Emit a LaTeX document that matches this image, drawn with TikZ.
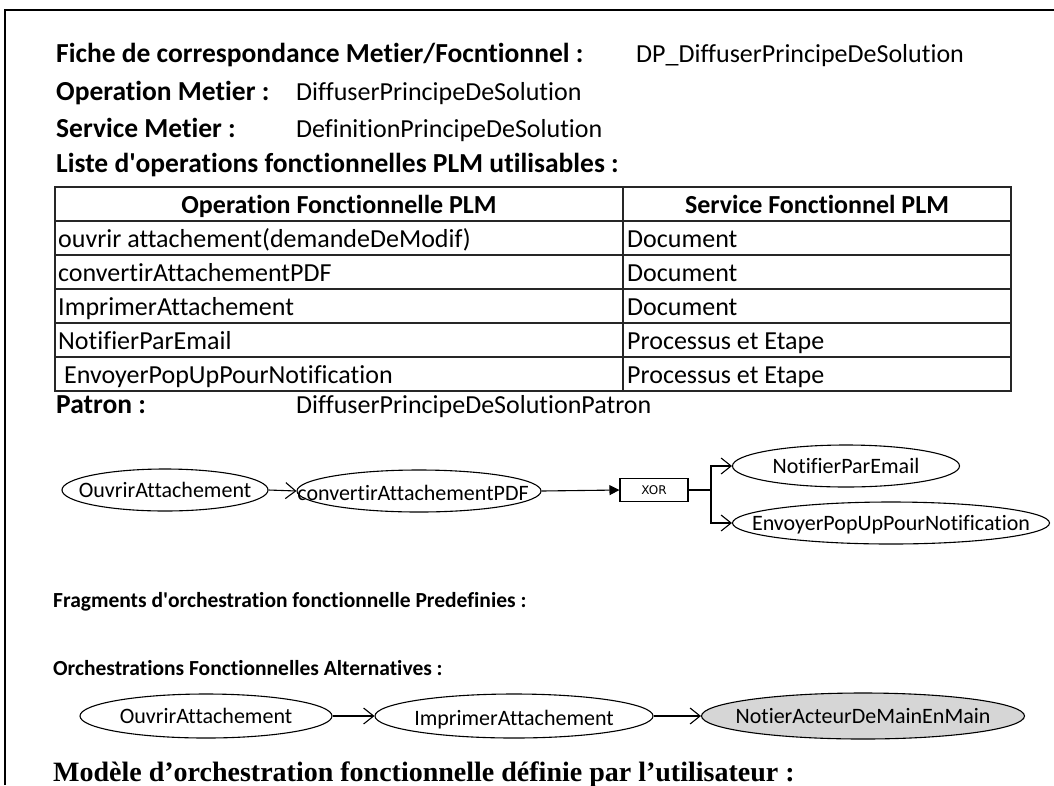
\documentclass[tikz,border=0pt]{standalone}
\usepackage{fontspec}
\setmainfont{Carlito}[Ligatures={NoCommon}]
\newfontfamily\ellfont{Carlito}[Ligatures={NoCommon}]
\newfontfamily\xorfont{DejaVu Sans}
\newfontfamily\serfont{Liberation Serif}
\usetikzlibrary{arrows.meta,shapes.geometric}
\begin{document}
\begin{tikzpicture}[x=1pt,y=-1pt,
  lbl/.style={anchor=base west, inner sep=0pt, font=\fontsize{26}{30}\selectfont},
  hd/.style={anchor=base west, inner sep=0pt, font=\fontsize{27.5}{31}\selectfont\bfseries},
  hdl/.style={anchor=base west, inner sep=0pt, font=\fontsize{21.5}{25}\selectfont\bfseries},
  thd/.style={anchor=base, inner sep=0pt, font=\fontsize{26}{30}\selectfont\bfseries},
  oval/.style={ellipse, draw, line width=1.1pt, minimum height=42pt, inner sep=0pt},
  ovaltxt/.style={anchor=base, inner sep=0pt, font=\ellfont\fontsize{22}{24}\selectfont},
  tline/.style={line width=1.8pt, draw=black!85},
  openarr/.style={line width=1.1pt, -{Straight Barb[length=10pt,width=16pt,line width=1.1pt]}},
  fillarr/.style={line width=1.1pt, -{Triangle[length=10pt,width=10pt]}},
  plain/.style={line width=1.1pt}
]
\useasboundingbox (0,0) rectangle (1054,785);
% frame
\draw[line width=2.8pt] (5,785) -- (5,10) -- (1054,10);

% header lines
\node[hd] (h1) at (56,62) {Fiche de correspondance Metier/Focntionnel :};
\node[lbl] (v1) at (636,62) {DP\_DiffuserPrincipeDeSolution};
\node[hd] (h2) at (56,100) {Operation Metier :};
\node[lbl] (v2) at (296,100) {DiffuserPrincipeDeSolution};
\node[hd] (h3) at (56,137) {Service Metier :};
\node[lbl] (v3) at (296,137) {DefinitionPrincipeDeSolution};
\node[hd] (h4) at (56,172) {Liste d\textquotesingle operations fonctionnelles PLM utilisables :};

% table
\draw[tline] (55,187) rectangle (1011,391);
\draw[tline] (623,187) -- (623,391);
\foreach \yy in {221,255,289,323,357} \draw[tline] (55,\yy) -- (1011,\yy);
\node[thd] (th1) at (339,213) {Operation Fonctionnelle PLM};
\node[thd] (th2) at (817,213) {Service Fonctionnel PLM};
\node[lbl] (r1a) at (58,247) {ouvrir attachement(demandeDeModif)};
\node[lbl] (r1b) at (627,247) {Document};
\node[lbl] (r2a) at (58,281) {convertirAttachementPDF};
\node[lbl] (r2b) at (627,281) {Document};
\node[lbl] (r3a) at (58,315) {ImprimerAttachement};
\node[lbl] (r3b) at (627,315) {Document};
\node[lbl] (r4a) at (58,349) {NotifierParEmail};
\node[lbl] (r4b) at (627,349) {Processus et Etape};
\node[lbl] (r5a) at (64,383) {EnvoyerPopUpPourNotification};
\node[lbl] (r5b) at (627,383) {Processus et Etape};

\node[hd] (h5) at (56,413) {Patron :};
\node[lbl] (v5) at (296,413) {DiffuserPrincipeDeSolutionPatron};

% patron diagram
\node[oval, minimum width=206pt] (p1) at (165,490) {};
\node[ovaltxt] (p1t) at ([yshift=-7pt]p1.center) {OuvrirAttachement};
\node[oval, minimum width=244pt] (p2) at (419,491) {};
\node[ovaltxt] (p2t) at ([xshift=-6pt,yshift=-9pt]p2.center) {convertirAttachementPDF};
\node[draw, line width=1.1pt, minimum width=68pt, minimum height=23pt, inner sep=0pt,
      font=\xorfont\fontsize{12}{13}\selectfont] (xor) at (654,490) {XOR};
\node[oval, minimum width=227pt] (p3) at (846,466) {};
\node[ovaltxt] (p3t) at ([yshift=-7pt]p3.center) {NotifierParEmail};
\node[oval, minimum width=317pt] (p4) at (891,523) {};
\node[ovaltxt] (p4t) at ([yshift=-7pt]p4.center) {EnvoyerPopUpPourNotification};
\coordinate (br) at (711,490);
\draw[openarr] (p1.east) -- (p2.west);
\draw[fillarr] (p2.east) -- (xor.west);
\draw[plain] (xor.east) -- (br);
\draw[openarr] (br) |- (p3.west);
\draw[openarr] (br) |- (p4.west);

% sections
\node[hdl] (h6) at (53,607) {Fragments d\textquotesingle orchestration fonctionnelle Predefinies :};
\node[hdl] (h7) at (53,675) {Orchestrations Fonctionnelles Alternatives :};

\node[oval, minimum width=252pt, minimum height=44pt] (b1) at (206,716) {};
\node[ovaltxt] (b1t) at ([yshift=-7pt]b1.center) {OuvrirAttachement};
\node[oval, minimum width=278pt, minimum height=44pt] (b2) at (514,716) {};
\node[ovaltxt] (b2t) at ([yshift=-9pt]b2.center) {ImprimerAttachement};
\node[oval, fill=black!16, minimum width=323pt, minimum height=46pt] (b3) at (863,716) {};
\node[ovaltxt] (b3t) at ([yshift=-7pt]b3.center) {NotierActeurDeMainEnMain};
\draw[openarr] (b1.east) -- (b2.west);
\draw[openarr] (b2.east) -- (b3.west);

\node[anchor=base west, inner sep=0pt, font=\serfont\fontsize{28}{32}\selectfont\bfseries] (h8) at (53,781) {Modèle d’orchestration fonctionnelle définie par l’utilisateur :};
\end{tikzpicture}
\end{document}
